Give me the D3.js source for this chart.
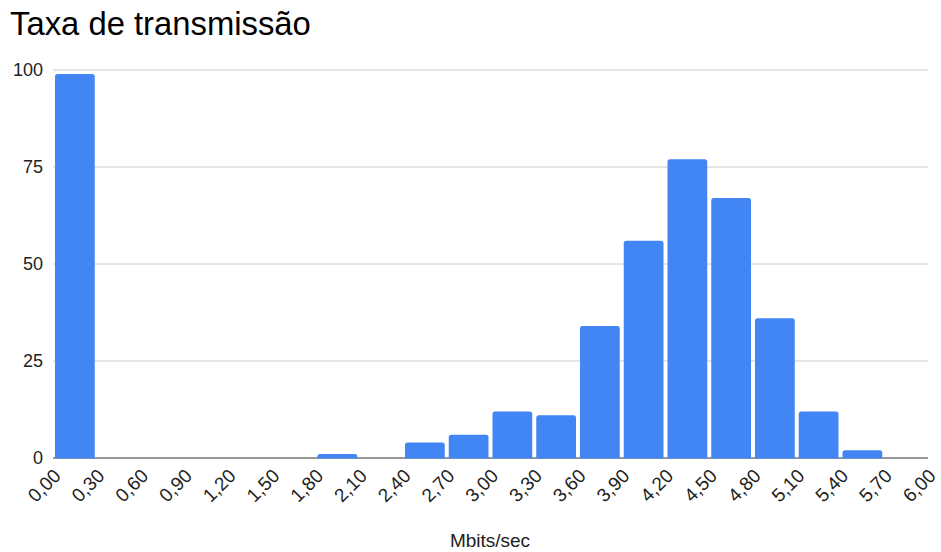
<!DOCTYPE html>
<html>
<head>
<meta charset="utf-8">
<script src="https://cdn.jsdelivr.net/npm/d3@7"></script>
<style>
  html, body { margin: 0; padding: 0; background: #fff; }
  svg { display: block; font-family: "Liberation Sans", Arial, sans-serif; }
</style>
</head>
<body>
<svg id="chart" width="941" height="552"></svg>
<script>
// Histogram bins (Mbits/sec), 0.30 wide, and their counts
const binStarts = [0.0, 0.3, 0.6, 0.9, 1.2, 1.5, 1.8, 2.1, 2.4, 2.7, 3.0, 3.3, 3.6, 3.9, 4.2, 4.5, 4.8, 5.1, 5.4, 5.7];
const counts    = [99, 0, 0, 0, 0, 0, 1, 0, 4, 6, 12, 11, 34, 56, 77, 67, 36, 12, 2, 0];
const binWidth = 0.3;
const xTicks = d3.range(0, 21).map(i => +(i * 0.3).toFixed(2));
const yTicks = [0, 25, 50, 75, 100];
const title = "Taxa de transmissão";
const xTitle = "Mbits/sec";

const svg = d3.select("#chart");
const x = d3.scaleLinear().domain([0, 6]).range([53, 928]);
const y = d3.scaleLinear().domain([0, 100]).range([458, 70]);
const fmt = v => v.toFixed(2).replace(".", ",");

// Title
svg.append("text")
  .attr("x", 10).attr("y", 35)
  .attr("font-size", 32.8).attr("fill", "#000")
  .text(title);

// Horizontal gridlines
svg.append("g").selectAll("line")
  .data(yTicks.filter(d => d > 0))
  .join("line")
  .attr("x1", x(0)).attr("x2", x(6))
  .attr("y1", d => y(d)).attr("y2", d => y(d))
  .attr("stroke", "#cccccc").attr("stroke-width", 1);

// Y tick labels
svg.append("g").selectAll("text")
  .data(yTicks)
  .join("text")
  .attr("x", 43).attr("y", d => y(d))
  .attr("dy", "0.35em")
  .attr("text-anchor", "end")
  .attr("font-size", 18).attr("fill", "#222")
  .text(d => d);

// Baseline
svg.append("line")
  .attr("x1", x(0)).attr("x2", x(6))
  .attr("y1", y(0)).attr("y2", y(0))
  .attr("stroke", "#333").attr("stroke-width", 1.2);

// Bars with slightly rounded top corners
const r = 2.5;
const gap = 2;
svg.append("g").selectAll("path")
  .data(binStarts.map((s, i) => ({ s, v: counts[i] })).filter(d => d.v > 0))
  .join("path")
  .attr("fill", "#4285f4")
  .attr("d", d => {
    const x0 = x(d.s) + gap, x1 = x(d.s + binWidth) - gap;
    const y0 = y(d.v), yb = y(0) + 0.5;
    const rr = Math.min(r, (yb - y0) / 2);
    return `M${x0},${yb}V${y0 + rr}Q${x0},${y0} ${x0 + rr},${y0}H${x1 - rr}Q${x1},${y0} ${x1},${y0 + rr}V${yb}Z`;
  });

// X tick labels, rotated
svg.append("g").selectAll("text")
  .data(xTicks)
  .join("text")
  .attr("transform", d => `translate(${x(d) + 9},${y(0) + 19}) rotate(-45)`)
  .attr("text-anchor", "end")
  .attr("font-size", 19).attr("fill", "#222")
  .text(fmt);

// X axis title
svg.append("text")
  .attr("x", 490).attr("y", 547)
  .attr("text-anchor", "middle")
  .attr("font-size", 19).attr("fill", "#222")
  .text(xTitle);
</script>
</body>
</html>
